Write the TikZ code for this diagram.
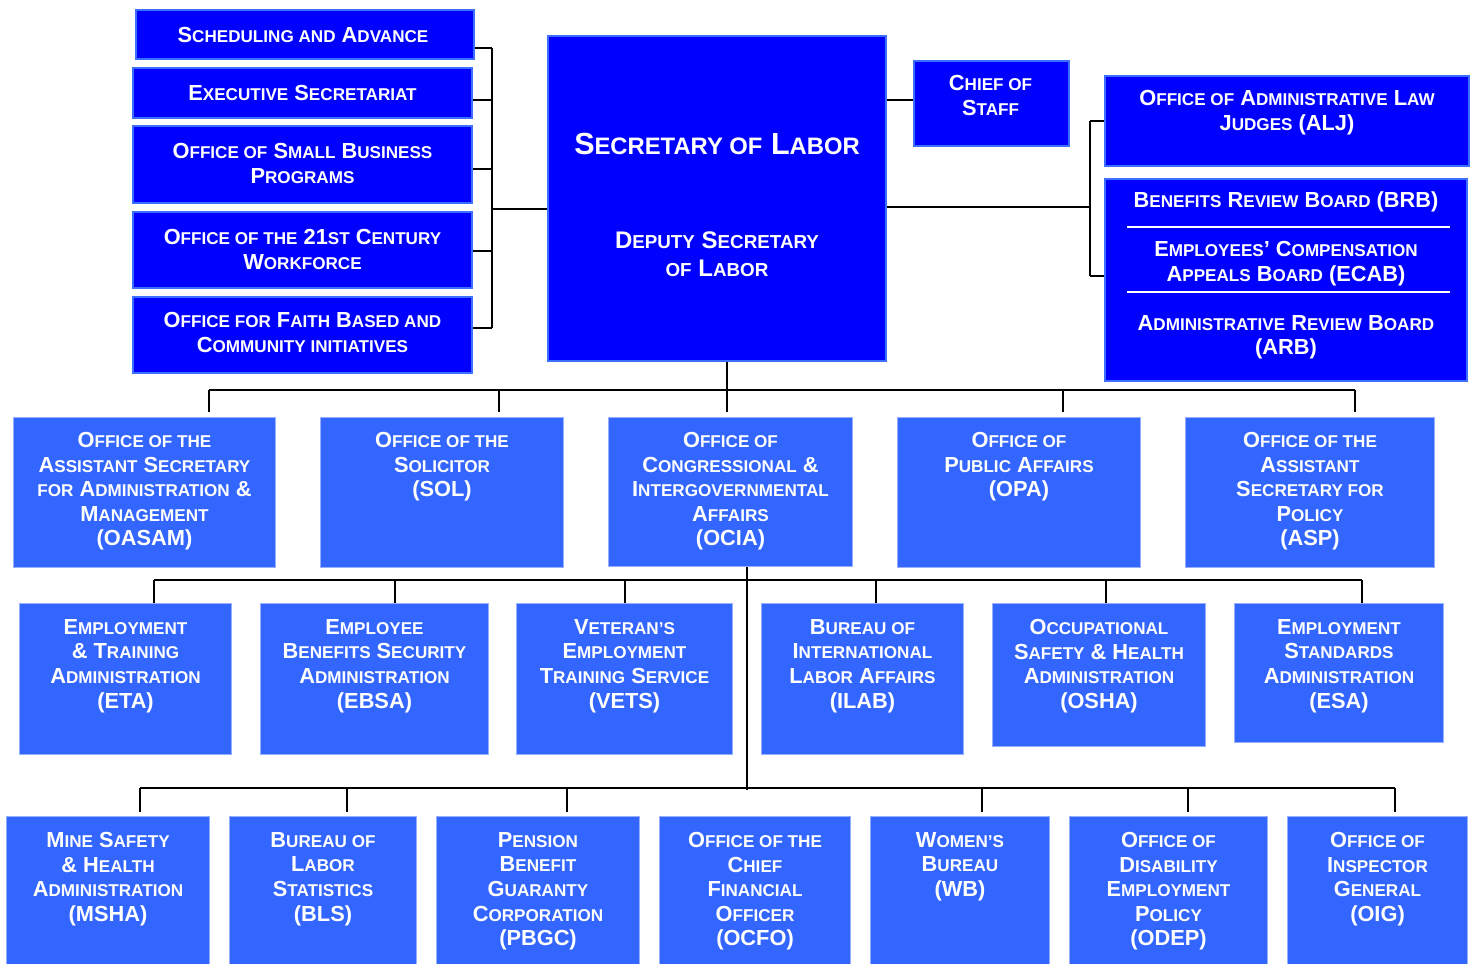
\documentclass[tikz,border=0pt]{standalone}
\usepackage{fontspec}
\setmainfont{Liberation Sans}
\definecolor{dkblue}{RGB}{0,0,255}
\definecolor{dkedge}{RGB}{60,110,255}
\definecolor{ltblue}{RGB}{51,102,255}
\definecolor{ltedge}{RGB}{150,175,255}
\newcommand\smf{\fontsize{17.1}{25}\selectfont}
\newcommand\sm[1]{{\smf\uppercase{#1}}}
\newcommand\bx[6]{\node[#1, minimum width=#4-#2, minimum height=#5-#3] (#6) at (#2,#3) {};}
\tikzset{
  dk/.style={fill=dkblue, draw=dkedge, line width=2pt, inner sep=0pt, anchor=north west},
  lt/.style={fill=ltblue, draw=ltedge, line width=1pt, inner sep=0pt, anchor=north west},
  tx/.style={text=white, align=center, inner sep=0pt,
    font=\bfseries\fontsize{21.8}{25}\selectfont},
  txl/.style={text=white, align=center, inner sep=0pt, anchor=north,
    font=\bfseries\fontsize{21.8}{24.6}\selectfont},
  ttl/.style={text=white, align=center, inner sep=0pt,
    font={\bfseries\fontsize{30.5}{30}\selectfont\def\smf{\fontsize{23.8}{30}\selectfont}}},
  dep/.style={text=white, align=center, inner sep=0pt, anchor=north,
    font={\bfseries\fontsize{24}{27.5}\selectfont\def\smf{\fontsize{18.8}{27.5}\selectfont}}},
  conn/.style={draw=black, line width=1.6pt},
  sep/.style={draw=white, line width=1.4pt}
}
\begin{document}
\begin{tikzpicture}[x=1pt, y=-1pt]
\useasboundingbox (0,0) rectangle (1473,964);
% ---------- top boxes ----------
\bx{dk}{135}{9}{473}{58}{sched}
\bx{dk}{132}{67}{471}{117}{exec}
\bx{dk}{132}{125}{471}{202}{osb}
\bx{dk}{132}{211}{471}{287}{cent}
\bx{dk}{132}{296}{471}{372}{faith}
\bx{dk}{547}{35}{885}{360}{sec}
\bx{dk}{913}{60}{1068}{145}{chief}
\bx{dk}{1104}{75}{1468}{165}{alj}
\bx{dk}{1104}{178}{1466}{380}{brd}

\node[tx] (sched-t) at ([xshift=-2pt]sched.center) {S\sm{cheduling and} A\sm{dvance}};
\node[tx] (exec-t) at (exec.center) {E\sm{xecutive} S\sm{ecretariat}};
\node[tx] (osb-t) at ([yshift=1.5pt]osb.center) {O\sm{ffice of} S\sm{mall} B\sm{usiness}\\P\sm{rograms}};
\node[tx] (cent-t) at ([yshift=1pt]cent.center) {O\sm{ffice of the} 21\sm{st} C\sm{entury}\\W\sm{orkforce}};
\node[tx] (faith-t) at ([yshift=3pt]faith.center) {O\sm{ffice for} F\sm{aith} B\sm{ased and}\\C\sm{ommunity initiatives}};

\node[ttl] (sec-t) at (sec.north |- 0,144) {S\sm{ecretary of} L\sm{abor}};
\node[dep] (dep-t) at (sec.north |- 0,232) {D\sm{eputy} S\sm{ecretary}\\\sm{of} L\sm{abor}};

\node[txl] (chief-t) at ([xshift=-1pt]chief.north |- 0,75) {C\sm{hief of}\\S\sm{taff}};
\node[txl] (alj-t) at (alj.north |- 0,90) {O\sm{ffice of} A\sm{dministrative} L\sm{aw}\\J\sm{udges} (ALJ)};
\node[txl] (brb-t) at (brd.north |- 0,192) {B\sm{enefits} R\sm{eview} B\sm{oard} (BRB)};
\node[txl] (ecab-t) at (brd.north |- 0,241) {E\sm{mployees}’ C\sm{ompensation}\\A\sm{ppeals} B\sm{oard} (ECAB)};
\node[txl] (arb-t) at (brd.north |- 0,315) {A\sm{dministrative} R\sm{eview} B\sm{oard}\\(ARB)};
\coordinate (sp1a) at (1127,227); \coordinate (sp1b) at (1450,227);
\coordinate (sp2a) at (1127,292); \coordinate (sp2b) at (1450,292);
\draw[sep] (sp1a) -- (sp1b);
\draw[sep] (sp2a) -- (sp2b);

% ---------- row 2 ----------
\bx{lt}{13}{417}{275}{567}{oasam}
\bx{lt}{320}{417}{563}{567}{sol}
\bx{lt}{608}{417}{852}{566}{ocia}
\bx{lt}{897}{417}{1140}{567}{opa}
\bx{lt}{1185}{417}{1434}{567}{asp}
\node[txl] (oasam-t) at (oasam.north |- 0,432) {O\sm{ffice of the}\\A\sm{ssistant} S\sm{ecretary}\\\sm{for} A\sm{dministration} \&\\M\sm{anagement}\\(OASAM)};
\node[txl] (sol-t) at (sol.north |- 0,432) {O\sm{ffice of the}\\S\sm{olicitor}\\(SOL)};
\node[txl] (ocia-t) at (ocia.north |- 0,432) {O\sm{ffice of}\\C\sm{ongressional} \&\\I\sm{ntergovernmental}\\A\sm{ffairs}\\(OCIA)};
\node[txl] (opa-t) at (opa.north |- 0,432) {O\sm{ffice of}\\P\sm{ublic} A\sm{ffairs}\\(OPA)};
\node[txl] (asp-t) at (asp.north |- 0,432) {O\sm{ffice of the}\\A\sm{ssistant}\\S\sm{ecretary for}\\P\sm{olicy}\\(ASP)};

% ---------- row 3 ----------
\bx{lt}{19}{603}{231}{754}{eta}
\bx{lt}{260}{603}{488}{754}{ebsa}
\bx{lt}{516}{603}{732}{754}{vets}
\bx{lt}{761}{603}{963}{754}{ilab}
\bx{lt}{992}{603}{1205}{746}{osha}
\bx{lt}{1234}{603}{1443}{742}{esa}
\node[txl] (eta-t) at (eta.north |- 0,619) {E\sm{mployment}\\\& T\sm{raining}\\A\sm{dministration}\\(ETA)};
\node[txl] (ebsa-t) at (ebsa.north |- 0,619) {E\sm{mployee}\\B\sm{enefits} S\sm{ecurity}\\A\sm{dministration}\\(EBSA)};
\node[txl] (vets-t) at (vets.north |- 0,619) {V\sm{eteran’s}\\E\sm{mployment}\\T\sm{raining} S\sm{ervice}\\(VETS)};
\node[txl] (ilab-t) at (ilab.north |- 0,619) {B\sm{ureau of}\\I\sm{nternational}\\L\sm{abor} A\sm{ffairs}\\(ILAB)};
\node[txl] (osha-t) at (osha.north |- 0,619) {O\sm{ccupational}\\S\sm{afety} \& H\sm{ealth}\\A\sm{dministration}\\(OSHA)};
\node[txl] (esa-t) at (esa.north |- 0,619) {E\sm{mployment}\\S\sm{tandards}\\A\sm{dministration}\\(ESA)};

% ---------- row 4 ----------
\bx{lt}{6}{816}{209}{966}{msha}
\bx{lt}{229}{816}{416}{966}{bls}
\bx{lt}{436}{816}{639}{966}{pbgc}
\bx{lt}{659}{816}{850}{966}{ocfo}
\bx{lt}{870}{816}{1049}{966}{wb}
\bx{lt}{1069}{816}{1267}{966}{odep}
\bx{lt}{1287}{816}{1467}{966}{oig}
\node[txl] (msha-t) at (msha.north |- 0,832) {M\sm{ine} S\sm{afety}\\\& H\sm{ealth}\\A\sm{dministration}\\(MSHA)};
\node[txl] (bls-t) at (bls.north |- 0,832) {B\sm{ureau of}\\L\sm{abor}\\S\sm{tatistics}\\(BLS)};
\node[txl] (pbgc-t) at (pbgc.north |- 0,832) {P\sm{ension}\\B\sm{enefit}\\G\sm{uaranty}\\C\sm{orporation}\\(PBGC)};
\node[txl] (ocfo-t) at (ocfo.north |- 0,832) {O\sm{ffice of the}\\C\sm{hief}\\F\sm{inancial}\\O\sm{fficer}\\(OCFO)};
\node[txl] (wb-t) at (wb.north |- 0,832) {W\sm{omen’s}\\B\sm{ureau}\\(WB)};
\node[txl] (odep-t) at (odep.north |- 0,832) {O\sm{ffice of}\\D\sm{isability}\\E\sm{mployment}\\P\sm{olicy}\\(ODEP)};
\node[txl] (oig-t) at (oig.north |- 0,832) {O\sm{ffice of}\\I\sm{nspector}\\G\sm{eneral}\\(OIG)};

% ---------- connectors: left bracket ----------
\coordinate (lbt) at (492,48);
\coordinate (lbb) at (492,328);
\draw[conn] (lbt) -- (lbb);
\draw[conn] (lbt) -- (lbt -| sched.east);
\draw[conn] (lbt) |- ([yshift=-7pt]exec.east);
\draw[conn] (lbt) |- ([yshift=-4.5pt]osb.east);
\draw[conn] (lbt) |- ([yshift=-1pt]cent.east);
\draw[conn] (lbb) -- (lbb -| faith.east);
\draw[conn] (lbt) |- ([yshift=-10.5pt]sec.west);
% chief of staff
\draw[conn] ([yshift=3.5pt]chief.west) -- ([yshift=3.5pt]chief.west -| sec.east);
% right bracket
\coordinate (rbt) at (1090,121);
\coordinate (rbb) at (1090,276);
\draw[conn] (rbt) -- (rbb);
\draw[conn] (rbt) -- (rbt -| alj.west);
\draw[conn] (rbb) -- (rbb -| brd.west);
\draw[conn] (rbt) |- ([yshift=-8.5pt]sec.east);

% ---------- row 2 connectors ----------
\coordinate (t2) at (727,390);
\coordinate (s2a) at (209,390);
\coordinate (s2b) at (499,390);
\coordinate (s2d) at (1063,390);
\coordinate (s2e) at (1355,390);
\draw[conn] (sec.south -| t2) -- (t2);
\draw[conn] (s2a) -- (s2e);
\draw[conn, shorten >=5pt] (s2a) -- (s2a |- oasam.north);
\draw[conn, shorten >=5pt] (s2b) -- (s2b |- sol.north);
\draw[conn, shorten >=5pt] (t2) -- (t2 |- ocia.north);
\draw[conn, shorten >=5pt] (s2d) -- (s2d |- opa.north);
\draw[conn, shorten >=5pt] (s2e) -- (s2e |- asp.north);

% ---------- row 3 connectors ----------
\coordinate (t3) at (747,580);
\coordinate (t4) at (747,790);
\coordinate (s3a) at (154,580);
\coordinate (s3b) at (395,580);
\coordinate (s3c) at (625,580);
\coordinate (s3d) at (876,580);
\coordinate (s3e) at (1106,580);
\coordinate (s3f) at (1362,580);
\draw[conn] (ocia.south -| t4) -- (t4);
\draw[conn] (s3a) -- (s3f);
\draw[conn] (s3a) -- (s3a |- eta.north);
\draw[conn] (s3b) -- (s3b |- ebsa.north);
\draw[conn] (s3c) -- (s3c |- vets.north);
\draw[conn] (s3d) -- (s3d |- ilab.north);
\draw[conn] (s3e) -- (s3e |- osha.north);
\draw[conn] (s3f) -- (s3f |- esa.north);

% ---------- row 4 connectors ----------
\coordinate (s4a) at (140,788);
\coordinate (s4b) at (347,788);
\coordinate (s4c) at (567,788);
\coordinate (s4e) at (982,788);
\coordinate (s4f) at (1188,788);
\coordinate (s4g) at (1395,788);
\draw[conn] (s4a) -- (s4g);
\draw[conn, shorten >=4pt] (s4a) -- (s4a |- msha.north);
\draw[conn, shorten >=4pt] (s4b) -- (s4b |- bls.north);
\draw[conn, shorten >=4pt] (s4c) -- (s4c |- pbgc.north);
\draw[conn, shorten >=4pt] (s4e) -- (s4e |- wb.north);
\draw[conn, shorten >=4pt] (s4f) -- (s4f |- odep.north);
\draw[conn, shorten >=4pt] (s4g) -- (s4g |- oig.north);
\end{tikzpicture}
\end{document}
